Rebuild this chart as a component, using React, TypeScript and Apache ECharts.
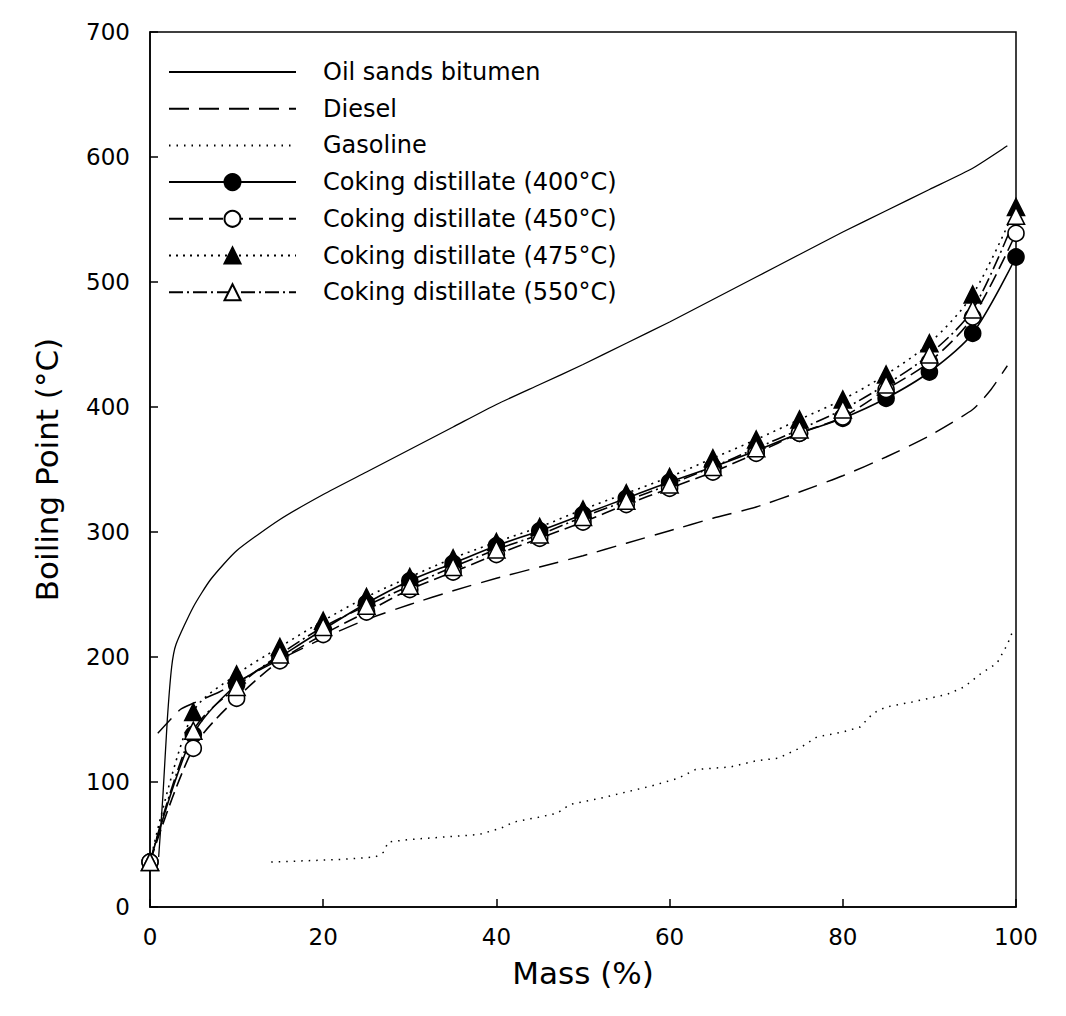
import React, { useEffect, useRef } from "react";
import * as echarts from "echarts";

const massPoints = [0, 5, 10, 15, 20, 25, 30, 35, 40, 45, 50, 55, 60, 65, 70, 75, 80, 85, 90, 95, 100];
const coking400 = [36, 138, 178, 200, 222, 243, 261, 275, 289, 301, 314, 327, 340, 352, 365, 379, 391, 407, 428, 459, 520];
const coking450 = [36, 127, 167, 197, 218, 236, 254, 268, 282, 295, 308, 322, 335, 348, 363, 379, 392, 414, 436, 472, 539];
const coking475 = [36, 156, 186, 208, 229, 248, 264, 279, 292, 304, 318, 331, 344, 359, 374, 390, 406, 426, 451, 490, 560];
const coking550 = [36, 141, 176, 202, 224, 241, 257, 272, 286, 298, 312, 325, 338, 352, 367, 382, 398, 418, 442, 478, 553];

const bitumenMass = [1.0, 1.5, 2.0, 2.5, 3, 5, 7, 10, 15, 20, 25, 30, 35, 40, 45, 50, 55, 60, 65, 70, 75, 80, 85, 90, 95, 99];
const bitumenTemp = [40, 90, 150, 192, 210, 240, 262, 285, 310, 330, 348, 366, 384, 402, 418, 434, 451, 468, 486, 504, 522, 540, 557, 574, 591, 609];

const dieselMass = [0.9, 3.5, 5, 8, 10, 15, 20, 25, 30, 35, 40, 45, 50, 55, 60, 65, 70, 75, 80, 85, 90, 95, 97, 99];
const dieselTemp = [139, 158, 163, 172, 180, 198, 215, 230, 242, 253, 263, 272, 281, 291, 301, 311, 320, 332, 345, 360, 377, 398, 413, 433];

const gasolineMass = [14, 18, 22, 26, 27, 27.5, 30, 34, 38, 40.5, 42, 45, 47, 48.5, 52, 55, 58, 61, 63, 67, 70, 72.5, 75, 77, 80, 82, 83.5, 85, 88, 92, 94, 96, 97.8, 99, 99.7];
const gasolineTemp = [36, 37, 38, 40, 44, 52, 54, 56, 58, 63, 68, 72, 75, 82, 87, 92, 97, 103, 110, 112, 117, 119, 127, 136, 140, 144, 155, 160, 164, 170, 176, 187, 195, 210, 222];

const seriesNames = [
  "Oil sands bitumen",
  "Diesel",
  "Gasoline",
  "Coking distillate (400°C)",
  "Coking distillate (450°C)",
  "Coking distillate (475°C)",
  "Coking distillate (550°C)",
];

const pairs = (xs: number[], ys: number[]) => xs.map((x, i) => [x, ys[i]]);

const FONT = "'DejaVu Sans', 'Liberation Sans', Arial, sans-serif";

export default function App() {
  const ref = useRef<HTMLDivElement>(null);
  useEffect(() => {
    if (!ref.current) return;
    const chart = echarts.init(ref.current, undefined, { renderer: "svg" });
    const baseLine = (name: string, data: number[][], type: any, width: number, smooth: any) => ({
      name,
      type: "line",
      data,
      showSymbol: false,
      symbol: "none",
      smooth,
      lineStyle: { color: "#000", width, type },
      itemStyle: { color: "#000" },
      z: 2,
    });
    const coking = (name: string, vals: number[], type: any, symbol: string, fill: string) => ({
      name,
      type: "line",
      data: pairs(massPoints, vals),
      smooth: 0.3,
      symbol,
      symbolSize: symbol === "circle" ? 16 : 17,
      lineStyle: { color: "#000", width: 1.6, type },
      itemStyle: { color: fill, borderColor: "#000", borderWidth: 1.6 },
      z: 3,
    });
    chart.setOption({
      animation: false,
      backgroundColor: "#fff",
      textStyle: { fontFamily: FONT, color: "#000" },
      grid: {
        left: 142,
        right: 42,
        top: 24,
        bottom: 101,
        show: true,
        borderColor: "#000",
        borderWidth: 1.5,
      },
      legend: {
        orient: "vertical",
        left: 155,
        top: 47,
        itemWidth: 127,
        itemHeight: 20,
        itemGap: 12.7,
        data: seriesNames.map((n, i) =>
          i < 3 ? { name: n, itemStyle: { opacity: 0 } } : { name: n }
        ),
        textStyle: { fontFamily: FONT, fontSize: 24, color: "#000", padding: [0, 0, 0, 22] },
        selectedMode: false,
      },
      xAxis: {
        type: "value",
        min: 0,
        max: 100,
        interval: 20,
        name: "Mass (%)",
        nameLocation: "middle",
        nameGap: 50,
        nameTextStyle: { fontFamily: FONT, fontSize: 31, color: "#000" },
        axisLine: { show: true, lineStyle: { color: "#000", width: 1.5 } },
        axisTick: { show: true, inside: true, length: 8, lineStyle: { color: "#000", width: 1.5 } },
        axisLabel: { fontFamily: FONT, fontSize: 23, color: "#000", margin: 18 },
        splitLine: { show: false },
      },
      yAxis: {
        type: "value",
        min: 0,
        max: 700,
        interval: 100,
        name: "Boiling Point (°C)",
        nameLocation: "middle",
        nameGap: 88,
        nameRotate: 90,
        nameTextStyle: { fontFamily: FONT, fontSize: 31, color: "#000" },
        axisLine: { show: true, lineStyle: { color: "#000", width: 1.5 } },
        axisTick: { show: true, inside: true, length: 8, lineStyle: { color: "#000", width: 1.5 } },
        axisLabel: { fontFamily: FONT, fontSize: 23, color: "#000", margin: 20 },
        splitLine: { show: false },
      },
      series: [
        baseLine(seriesNames[0], pairs(bitumenMass, bitumenTemp), "solid", 1.3, 0.2),
        baseLine(seriesNames[1], pairs(dieselMass, dieselTemp), [20, 10], 1.4, 0.2),
        baseLine(seriesNames[2], pairs(gasolineMass, gasolineTemp), [1.5, 6], 1.5, false),
        coking(seriesNames[3], coking400, "solid", "circle", "#000"),
        coking(seriesNames[4], coking450, [14, 6], "circle", "#fff"),
        coking(seriesNames[5], coking475, [2, 5], "triangle", "#000"),
        coking(seriesNames[6], coking550, [14, 4, 2, 4], "triangle", "#fff"),
      ],
    });
    return () => chart.dispose();
  }, []);
  return <div ref={ref} style={{ width: 1050, height: 1000 }} />;
}
